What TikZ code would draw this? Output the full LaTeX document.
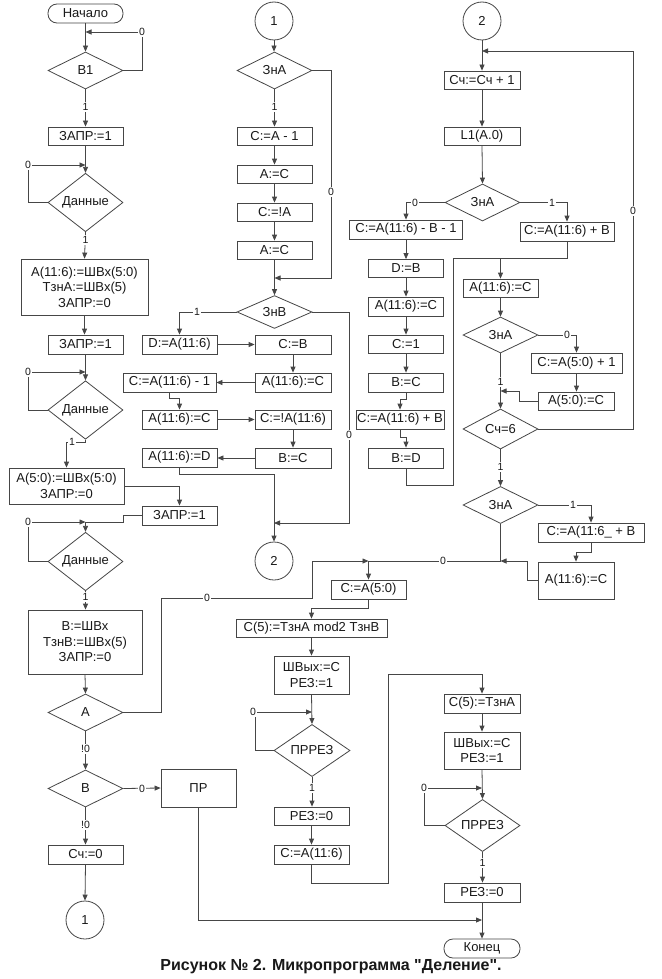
\documentclass[tikz,border=0pt]{standalone}
\usepackage{fontspec}
\setmainfont{Liberation Sans}
\newfontfamily\capfont{Liberation Sans}
\usetikzlibrary{shapes.geometric,arrows.meta}
\definecolor{lc}{RGB}{70,70,70}
\definecolor{tc}{RGB}{25,25,25}
\begin{document}
\begin{tikzpicture}[x=1pt,y=-1pt,
  every node/.style={text=tc},
  bx/.style={draw=lc,line width=0.8pt,rectangle,inner sep=0pt,minimum width=75pt,minimum height=19pt,align=center,font=\fontsize{13}{15.5}\selectfont},
  term/.style={bx,rounded corners=9pt},
  dia/.style={draw=lc,line width=0.8pt,diamond,inner sep=0pt,minimum width=75pt,minimum height=37pt,font=\fontsize{13}{15}\selectfont},
  circ/.style={draw=lc,line width=0.8pt,circle,inner sep=0pt,minimum size=38pt,font=\fontsize{13}{15}\selectfont},
  ln/.style={draw=lc,line width=0.8pt},
  ar/.style={ln,-{Triangle[length=6pt,width=5pt]}},
  lab/.style={fill=white,inner sep=1pt,font=\fontsize{10.5}{12}\selectfont},
]
\fill[white] (0,0) rectangle (661,979);
\useasboundingbox (0,0) rectangle (661,979);

% ---------- column 1 ----------
\node[term] (start) at (85.5,13.5) {Начало};
\node[dia] (b1) at (85.5,70.5) {B1};
\node[bx,minimum height=18pt] (zapr1) at (85.5,136) {ЗАПР:=1};
\node[dia] (dan1) at (85.5,202.5) {Данные};
\node[bx,minimum width=127pt,minimum height=56pt] (ab) at (84.5,287) {A(11:6):=ШВх(5:0)\\ТзнА:=ШВх(5)\\ЗАПР:=0};
\node[bx] (zapr2) at (85.5,344.5) {ЗАПР:=1};
\node[dia,minimum height=36pt] (dan2) at (85.5,410) {Данные};
\node[bx,minimum width=115pt,minimum height=36pt] (a50) at (66.5,486) {A(5:0):=ШВх(5:0)\\ЗАПР:=0};
\node[bx] (zapr3) at (179.5,515.5) {ЗАПР:=1};
\node[dia] (dan3) at (85.5,561.5) {Данные};
\node[bx,minimum width=114pt,minimum height=64pt] (bb) at (85,642) {B:=ШВх\\ТзнВ:=ШВх(5)\\ЗАПР:=0};
\node[dia] (da) at (85.5,712.5) {A};
\node[dia] (db) at (85.5,788.5) {B};
\node[bx,minimum height=38pt] (pr) at (198.5,788) {ПР};
\node[bx] (sch0) at (85.5,854.5) {Сч:=0};
\node[circ] (c1b) at (85,920) {1};

% ---------- column 2 ----------
\node[circ] (c1) at (274,21) {1};
\node[dia] (zna1) at (274.5,70.5) {ЗнА};
\node[bx,minimum height=18pt] (ca1) at (274.5,136) {C:=A - 1};
\node[bx,minimum height=18pt] (ac1) at (274.5,174) {A:=C};
\node[bx,minimum height=18pt] (cna) at (274.5,212) {C:=!A};
\node[bx,minimum height=18pt] (ac2) at (274.5,250) {A:=C};
\node[dia,minimum height=30pt] (znb) at (274.5,312) {ЗнВ};
\node[bx] (da116) at (179.5,344.5) {D:=A(11:6)};
\node[bx,minimum width=76pt] (cb) at (293,344.5) {C:=B};
\node[bx,minimum width=76pt] (a116cb) at (293,382.5) {A(11:6):=C};
\node[bx,minimum width=93pt] (cam1) at (169.5,382.5) {C:=A(11:6) - 1};
\node[bx] (a116ca) at (179.5,419.5) {A(11:6):=C};
\node[bx,minimum width=76pt] (cna116) at (293,419.5) {C:=!A(11:6)};
\node[bx,minimum width=76pt,minimum height=20pt] (bc) at (293,458) {B:=C};
\node[bx] (a116d) at (179.5,457.5) {A(11:6):=D};
\node[circ] (c2b) at (274,561) {2};

% ---------- column 3 ----------
\node[circ] (c2) at (482,21) {2};
\node[bx,minimum width=76pt,minimum height=18pt] (sch1) at (482,80) {Сч:=Сч + 1};
\node[bx,minimum width=76pt,minimum height=18pt] (l1) at (482,136) {L1(A.0)};
\node[dia] (zna2) at (482.5,202.5) {ЗнА};
\node[bx,minimum width=113pt] (cab1) at (406,229.5) {C:=A(11:6) - B - 1};
\node[bx,minimum width=94pt] (capb) at (567,231.5) {C:=A(11:6) + B};
\node[bx,minimum height=18pt] (dbb) at (406,268.5) {D:=B};
\node[bx] (a116c3) at (406,306.5) {A(11:6):=C};
\node[bx,minimum height=18pt] (cone) at (406,344) {C:=1};
\node[bx] (bc3) at (406,382.5) {B:=C};
\node[bx,minimum width=88pt] (capb2) at (400,419.5) {C:=A(11:6) + B};
\node[bx,minimum height=20pt] (bd) at (406,458) {B:=D};
\node[bx,minimum height=18pt] (a116c4) at (500.5,288) {A(11:6):=C};
\node[dia,minimum height=36pt] (zna3) at (500.5,335) {ЗнА};
\node[bx,minimum width=91pt,minimum height=20pt] (ca50p1) at (576.5,363) {C:=A(5:0) + 1};
\node[bx,minimum width=76pt,minimum height=18pt] (a50c) at (576,401) {A(5:0):=C};
\node[dia,minimum height=38pt] (sch6) at (500.5,429) {Сч=6};
\node[dia] (zna4) at (500.5,505) {ЗнА};
\node[bx,minimum width=106pt] (ca116b) at (591,532.5) {C:=A(11:6\_ + B};
\node[bx,minimum width=76pt,minimum height=37pt] (a116c5) at (576,580.5) {A(11:6):=C};

% ---------- bottom ----------
\node[bx] (ca50) at (368.5,589.5) {C:=A(5:0)};
\node[bx,minimum width=151pt,minimum height=18pt] (c5) at (311.5,628) {C(5):=ТзнА mod2 ТзнВ};
\node[bx,minimum height=38pt] (shv1) at (311.5,675) {ШВых:=C\\РЕЗ:=1};
\node[dia,minimum width=76pt] (prez1) at (312,750.5) {ПРРЕЗ};
\node[bx,minimum height=18pt] (rez0) at (311.5,816) {РЕЗ:=0};
\node[bx] (ca116) at (311.5,854.5) {C:=A(11:6)};
\node[bx,minimum width=76pt] (c5t) at (482,703.5) {C(5):=ТзнА};
\node[bx,minimum width=76pt,minimum height=37pt] (shv2) at (482,750.5) {ШВых:=C\\РЕЗ:=1};
\node[dia] (prez2) at (482.5,825.5) {ПРРЕЗ};
\node[bx,minimum width=76pt] (rez02) at (482,892.5) {РЕЗ:=0};
\node[term,minimum width=76pt] (fin) at (482,948.5) {Конец};

% ---------- connectors column 1 ----------
\draw[ar] (start.south) -- (b1.north);
\draw[ar] (b1.east) -- (142,70.5) -- (142,32) -- (85.5,32);
\draw[ar] (b1.south) -- (zapr1.north);
\draw[ar] (zapr1.south) -- (dan1.north);
\draw[ar] (dan1.west) -- (28,202.5) -- (28,165) -- (85.5,165);
\draw[ar] (dan1.south) -- (ab.north);
\draw[ar] (ab.south) -- (ab.south |- zapr2.north);
\draw[ar] (zapr2.south) -- (dan2.north);
\draw[ar] (dan2.west) -- (28,410) -- (28,372) -- (85.5,372);
\draw[ar] (dan2.south) -- (85.5,442) -- (66.5,442) -- (a50.north);
\draw[ar] (a50.east) -- (179.5,486) -- (zapr3.north);
\draw[ar] (zapr3.west) -- (123,515.5) -- (123,522) -- (85.5,522) -- (dan3.north);
\draw[ar] (dan3.west) -- (28,561.5) -- (28,522) -- (85.5,522);
\draw[ar] (dan3.south) -- (dan3.south |- bb.north);
\draw[ar] (bb.south) -- (da.north);
\draw[ar] (da.east) -- (161,712.5) -- (161,598) -- (312,598) -- (312,561) -- (368.5,561);
\draw[ar] (da.south) -- (db.north);
\draw[ar] (db.east) -- (pr.west);
\draw[ar] (db.south) -- (sch0.north);
\draw[ar] (sch0.south) -- (c1b.north);
\draw[ar] (pr.south) -- (198.5,920) -- (482,920);

% ---------- connectors column 2 ----------
\draw[ar] (c1.south) -- (c1.south |- zna1.north);
\draw[ar] (zna1.south) -- (ca1.north);
\draw[ar] (ca1.south) -- (ac1.north);
\draw[ar] (ac1.south) -- (cna.north);
\draw[ar] (cna.south) -- (ac2.north);
\draw[ar] (ac2.south) -- (znb.north);
\draw[ar] (zna1.east) -- (331,70.5) -- (331,278) -- (274.5,278);
\draw[ar] (znb.west) -- (179.5,312) -- (da116.north);
\draw[ar] (znb.east) -- (349,312) -- (349,523) -- (274,523);
\draw[ar] (da116.east) -- (cb.west);
\draw[ar] (cb.south) -- (a116cb.north);
\draw[ar] (a116cb.west) -- (cam1.east);
\draw[ar] (cam1.south) -- (169.5,398) -- (179.5,398) -- (a116ca.north);
\draw[ar] (a116ca.east) -- (cna116.west);
\draw[ar] (cna116.south) -- (bc.north);
\draw[ar] (bc.west) -- (a116d.east |- bc.west);
\draw[ar] (a116d.south) -- (179.5,474) -- (274,474) -- (c2b.north);

% ---------- connectors column 3 ----------
\draw[ar] (c2.south) -- (sch1.north);
\draw[ar] (sch6.east) -- (633,429) -- (633,51) -- (482,51);
\draw[ar] (sch1.south) -- (l1.north);
\draw[ar] (l1.south) -- (zna2.north);
\draw[ar] (zna2.east) -- (567,202.5) -- (capb.north);
\draw[ar] (zna2.west) -- (406,202.5) -- (cab1.north);
\draw[ar] (cab1.south) -- (dbb.north);
\draw[ar] (dbb.south) -- (a116c3.north);
\draw[ar] (a116c3.south) -- (cone.north);
\draw[ar] (cone.south) -- (bc3.north);
\draw[ar] (bc3.south) -- (406,399) -- (400,399) -- (capb2.north);
\draw[ar] (capb2.south) -- (400,437) -- (406,437) -- (bd.north);
\draw[ar] (bd.south) -- (406,485) -- (453,485) -- (453,258) -- (500.5,258) -- (a116c4.north);
\draw[ln] (capb.south) -- (567,258) -- (500.5,258);
\draw[ar] (a116c4.south) -- (zna3.north);
\draw[ar] (zna3.east) -- (576.5,335) -- (ca50p1.north);
\draw[ar] (ca50p1.south) -- (ca50p1.south |- a50c.north);
\draw[ar] (a50c.west) -- (519,401) -- (519,391) -- (500.5,391);
\draw[ar] (zna3.south) -- (sch6.north);
\draw[ar] (sch6.south) -- (zna4.north);
\draw[ar] (zna4.east) -- (591,505) -- (ca116b.north);
\draw[ar] (ca116b.south) -- (591,552) -- (576,552) -- (a116c5.north);
\draw[ar] (a116c5.west) -- (527,580.5) -- (527,561) -- (500.5,561);
\draw[ar] (zna4.south) -- (500.5,561) -- (368.5,561) -- (ca50.north);

% ---------- connectors bottom ----------
\draw[ar] (ca50.south) -- (368.5,608) -- (311.5,608) -- (c5.north);
\draw[ar] (c5.south) -- (shv1.north);
\draw[ar] (shv1.south) -- (prez1.north);
\draw[ar] (prez1.west) -- (255,750.5) -- (255,712) -- (312,712);
\draw[ar] (prez1.south) -- (prez1.south |- rez0.north);
\draw[ar] (rez0.south) -- (ca116.north);
\draw[ar] (ca116.south) -- (311.5,883) -- (388,883) -- (388,674) -- (482,674) -- (c5t.north);
\draw[ar] (c5t.south) -- (shv2.north);
\draw[ar] (shv2.south) -- (prez2.north);
\draw[ar] (prez2.west) -- (424,825.5) -- (424,788) -- (482,788);
\draw[ar] (prez2.south) -- (prez2.south |- rez02.north);
\draw[ar] (rez02.south) -- (fin.north);

% ---------- labels ----------
\node[lab] (t1) at (142,32) {0};
\node[lab] (t2) at (85.5,107) {1};
\node[lab] (t3) at (28,165) {0};
\node[lab] (t4) at (85.5,240) {1};
\node[lab] (t5) at (28,372) {0};
\node[lab] (t6) at (72,442) {1};
\node[lab] (t7) at (28,522) {0};
\node[lab] (t8) at (85.5,597) {1};
\node[lab] (t9) at (207,598) {0};
\node[lab] (t10) at (85.5,749) {!0};
\node[lab] (t11) at (142,788.5) {0};
\node[lab] (t12) at (85.5,825) {!0};
\node[lab] (t13) at (274.5,107) {1};
\node[lab] (t14) at (331,192) {0};
\node[lab] (t15) at (197,312) {1};
\node[lab] (t16) at (349,435) {0};
\node[lab] (t17) at (633,211) {0};
\node[lab] (t18) at (552,202.5) {1};
\node[lab] (t19) at (415,202.5) {0};
\node[lab] (t20) at (567,335) {0};
\node[lab] (t21) at (500.5,382) {1};
\node[lab] (t22) at (500.5,467) {1};
\node[lab] (t23) at (573,505) {1};
\node[lab] (t24) at (443,561) {0};
\node[lab] (t25) at (253,712) {0};
\node[lab] (t26) at (312,788) {1};
\node[lab] (t27) at (424,788) {0};
\node[lab] (t28) at (482.5,863) {1};

\node (cap) at (331,967) {\capfont\bfseries\fontsize{16}{18}\selectfont Рисунок № 2. Микропрограмма "Деление".};
\end{tikzpicture}
\end{document}
